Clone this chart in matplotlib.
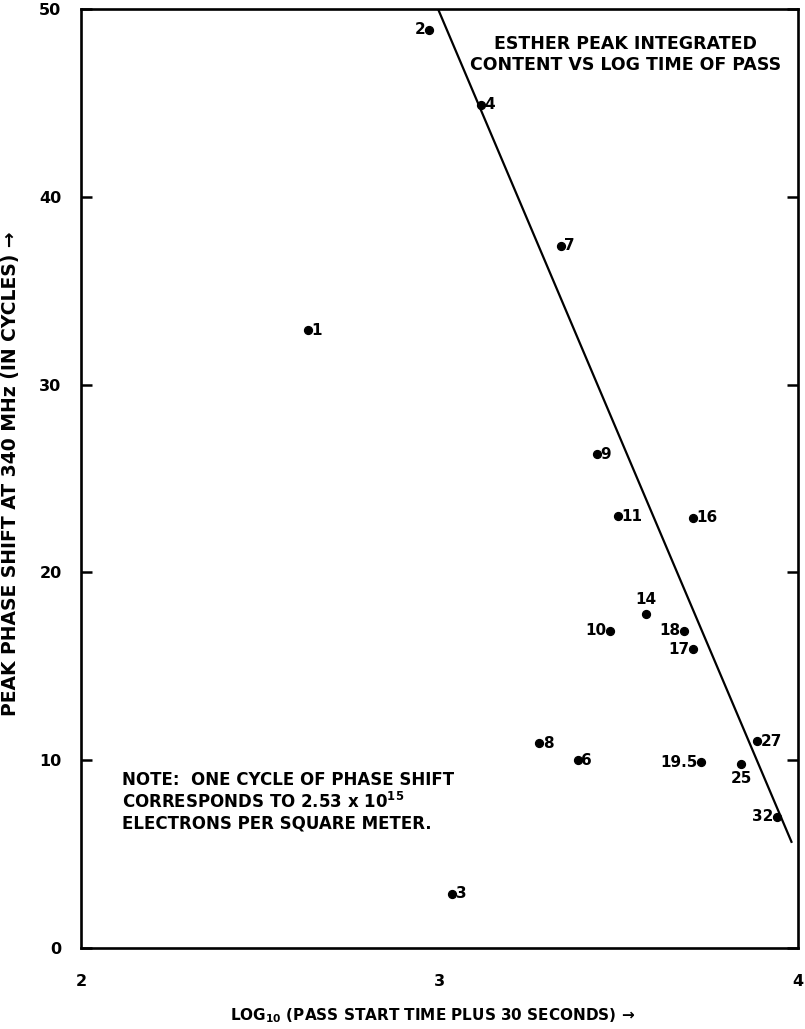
import numpy as np
import matplotlib.pyplot as plt

# pass number, log10 time of pass, peak phase shift (cycles)
passes = ["1", "2", "3", "4", "6", "7", "8", "9", "10", "11",
          "14", "16", "17", "18", "19.5", "25", "27", "32"]
log_time = [2.633, 2.971, 3.035, 3.116, 3.386, 3.339, 3.278, 3.439, 3.476, 3.498,
            3.576, 3.707, 3.707, 3.682, 3.729, 3.841, 3.886, 3.941]
phase_shift = [32.9, 48.9, 2.9, 44.9, 10.0, 37.4, 10.9, 26.3, 16.9, 23.0,
               17.8, 22.9, 15.9, 16.9, 9.9, 9.8, 11.0, 7.0]

# straight line drawn through the data
fit_x = [2.996, 3.983]
fit_y = [50.0, 5.6]

# where each number goes relative to its dot
side = {"1": "r", "2": "l", "3": "r", "4": "r", "6": "r", "7": "r", "8": "r",
        "9": "r", "10": "l", "11": "r", "14": "a", "16": "r", "17": "l",
        "18": "l", "19.5": "l", "25": "b", "27": "r", "32": "l"}

plt.rcParams["font.family"] = ["DejaVu Sans"]
plt.rcParams["font.weight"] = "bold"
plt.rcParams["mathtext.fontset"] = "dejavusans"
plt.rcParams["mathtext.default"] = "bf"

fig = plt.figure(figsize=(8.05, 10.29), dpi=100)
ax = fig.add_axes([0.1006, 0.0787, 0.8907, 0.9125])

ax.plot(fit_x, fit_y, color="black", lw=1.6, solid_capstyle="butt")
ax.scatter(log_time, phase_shift, s=32, color="black", zorder=3)

for lab, x, y in zip(passes, log_time, phase_shift):
    s = side[lab]
    if s == "r":
        kw = dict(xytext=(2.5, 0), ha="left", va="center")
    elif s == "l":
        kw = dict(xytext=(-2.5, 0), ha="right", va="center")
    elif s == "a":
        kw = dict(xytext=(0, 5), ha="center", va="bottom")
    else:
        kw = dict(xytext=(0, -5), ha="center", va="top")
    ax.annotate(lab, (x, y), textcoords="offset points", fontsize=11,
                fontweight="bold", **kw)

ax.set_xlim(2, 4)
ax.set_ylim(0, 50)
ax.set_xticks([2, 3, 4])
ax.set_yticks([0, 10, 20, 30, 40, 50])
ax.tick_params(axis="y", direction="in", length=8, width=1.8, right=True,
               labelsize=11.5, pad=14)
ax.tick_params(axis="x", length=0, labelsize=11.5, pad=19)
for t in ax.get_xticklabels() + ax.get_yticklabels():
    t.set_fontweight("bold")
for sp in ax.spines.values():
    sp.set_linewidth(1.9)

ax.set_xlabel("LOG$_{10}$ (PASS START TIME PLUS 30 SECONDS) \u2192",
              fontsize=11, fontweight="bold")
ax.set_ylabel("PEAK PHASE SHIFT AT 340 MHz (IN CYCLES) \u2192",
              fontsize=13.5, fontweight="bold")
ax.yaxis.set_label_coords(-0.085, 0.505)
ax.xaxis.set_label_coords(0.49, -0.062)

ax.text(0.76, 0.972, "ESTHER PEAK INTEGRATED\nCONTENT VS LOG TIME OF PASS",
        transform=ax.transAxes, ha="center", va="top", fontsize=12.5,
        fontweight="bold", linespacing=1.2)

ax.text(0.057, 0.188,
        "NOTE:  ONE CYCLE OF PHASE SHIFT\n"
        "CORRESPONDS TO 2.53 x 10$^{15}$\n"
        "ELECTRONS PER SQUARE METER.",
        transform=ax.transAxes, ha="left", va="top", fontsize=12,
        fontweight="bold", linespacing=1.15)

fig.savefig("out.png", dpi=100)
